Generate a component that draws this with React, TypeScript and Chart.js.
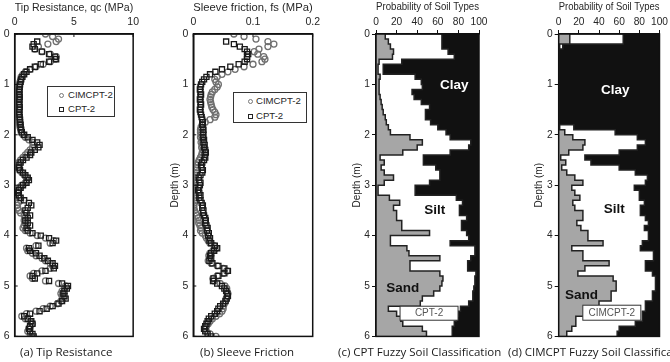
import React, { useEffect, useRef } from 'react';
import { Chart, registerables } from 'chart.js';

Chart.register(...registerables);

// ---------- data ----------
const DEPTH_PROFILE = [
  0, 0.05, 0.1, 0.15, 0.2, 0.25, 0.3, 0.35, 0.4, 0.45,
  0.5, 0.55, 0.6, 0.65, 0.7, 0.75, 0.8, 0.85, 0.9, 0.95,
  1, 1.05, 1.1, 1.15, 1.2, 1.25, 1.3, 1.35, 1.4, 1.45,
  1.5, 1.55, 1.6, 1.65, 1.7, 1.75, 1.8, 1.85, 1.9, 1.95,
  2, 2.05, 2.1, 2.15, 2.2, 2.25, 2.3, 2.35, 2.4, 2.45,
  2.5, 2.55, 2.6, 2.65, 2.7, 2.75, 2.8, 2.85, 2.9, 2.95,
  3, 3.05, 3.1, 3.15, 3.2, 3.25, 3.3, 3.35, 3.4, 3.45,
  3.5, 3.55, 3.6, 3.65, 3.7, 3.75, 3.8, 3.85, 3.9, 3.95,
  4, 4.05, 4.1, 4.15, 4.2, 4.25, 4.3, 4.35, 4.4, 4.45,
  4.5, 4.55, 4.6, 4.65, 4.7, 4.75, 4.8, 4.85, 4.9, 4.95,
  5, 5.05, 5.1, 5.15, 5.2, 5.25, 5.3, 5.35, 5.4, 5.45,
  5.5, 5.55, 5.6, 5.65, 5.7, 5.75, 5.8, 5.85, 5.9, 5.95,
  6,
];

// Tip resistance qc (MPa)
const QC_CIMCPT = [
  2.6, 3.2, 3.7, 3.5, 2.8, 2.0, 1.7, 2.3, 3.0, 3.5,
  3.4, 3.0, 2.4, 1.8, 1.3, 0.9, 0.7, 0.55, 0.5, 0.45,
  0.4, 0.38, 0.35, 0.35, 0.33, 0.35, 0.32, 0.3, 0.32, 0.35,
  0.33, 0.3, 0.32, 0.35, 0.38, 0.4, 0.42, 0.45, 0.5, 0.55,
  0.7, 0.9, 1.2, 1.5, 1.6, 1.5, 1.3, 1.1, 0.9, 0.7,
  0.5, 0.35, 0.3, 0.3, 0.4, 0.6, 0.8, 1.0, 1.0, 0.9,
  0.6, 0.4, 0.3, 0.25, 0.3, 0.4, 0.5, 0.3, 0.2, 0.25,
  0.35, 0.5, 0.8, 0.9, 0.8, 0.9, 0.8, 0.7, 0.9, 1.3,
  1.9, 2.6, 3.3, 3.0, 1.8, 1.0, 1.1, 1.5, 1.8, 2.3,
  2.6, 3.0, 3.2, 3.0, 2.3, 1.6, 1.3, 1.5, 2.6, 3.7,
  4.3, 4.2, 4.0, 3.9, 4.0, 4.1, 3.9, 3.6, 3.0, 2.4,
  1.8, 1.0, 0.6, 0.9, 1.3, 1.5, 1.3, 1.2, 1.1, 1.3,
  1.4,
];
const QC_CPT = [
  null, null, null, 1.9, 1.6, 1.5, 1.7, 2.3, 2.9, 3.4,
  3.5, 2.9, 2.2, 1.7, 1.3, 1.0, 0.8, 0.65, 0.55, 0.5,
  0.45, 0.42, 0.4, 0.38, 0.4, 0.42, 0.4, 0.38, 0.4, 0.42,
  0.4, 0.38, 0.4, 0.42, 0.45, 0.45, 0.5, 0.5, 0.55, 0.6,
  0.8, 1.1, 1.5, 1.9, 2.1, 2.0, 1.7, 1.4, 1.3, 1.0,
  0.7, 0.5, 0.4, 0.35, 0.45, 0.7, 0.9, 1.1, 1.2, 1.0,
  0.7, 0.5, 0.35, 0.3, 0.35, 0.5, 0.8, 1.2, 1.4, 1.1,
  0.9, 1.0, 1.3, 1.1, 0.9, 1.1, 1.3, 1.0, 1.1, 1.5,
  2.2, 2.9, 3.5, 3.2, 2.0, 1.2, 1.3, 1.8, 2.1, 2.5,
  2.8, 3.2, 3.4, 3.3, 2.6, 1.9, 1.5, 1.7, 2.9, 4.0,
  4.5, 4.4, 4.2, 4.1, 4.2, 4.3, 4.0, 3.7, 3.2, 2.7,
  2.1, 1.3, 0.8, 1.1, 1.4, 1.5, 1.3, 1.2, 1.3, 1.5,
  1.6,
];

// Sleeve friction fs (MPa)
const FS_CIMCPT = [
  0.068, 0.085, 0.105, 0.125, 0.135, 0.125, 0.11, 0.102, 0.108, 0.118,
  0.12, 0.115, 0.1, 0.085, 0.07, 0.058, 0.048, 0.04, 0.036, 0.038,
  0.042, 0.04, 0.036, 0.032, 0.03, 0.029, 0.028, 0.029, 0.03, 0.031,
  0.033, 0.036, 0.038, 0.036, 0.028, 0.02, 0.015, 0.013, 0.012, 0.012,
  0.013, 0.012, 0.014, 0.013, 0.015, 0.014, 0.016, 0.015, 0.014, 0.012,
  0.01, 0.008, 0.007, 0.006, 0.005, 0.004, 0.004, 0.003, 0.002, 0.002,
  0.003, 0.003, 0.002, 0.002, 0.003, 0.004, 0.003, 0.002, 0.001, 0.001,
  0.002, 0.004, 0.006, 0.008, 0.01, 0.009, 0.011, 0.013, 0.012, 0.015,
  0.02, 0.022, 0.025, 0.028, 0.035, 0.038, 0.033, 0.028, 0.026, 0.027,
  0.025, 0.03, 0.04, 0.05, 0.056, 0.05, 0.04, 0.033, 0.035, 0.045,
  0.053, 0.056, 0.056, 0.058, 0.057, 0.055, 0.054, 0.052, 0.05, 0.05,
  0.048, 0.044, 0.038, 0.032, 0.028, 0.025, 0.022, 0.02, 0.022, 0.028,
  0.038,
];
const FS_CPT = [
  null, null, null, 0.055, 0.068, 0.078, 0.086, 0.09, 0.092, 0.09,
  0.09, 0.086, 0.076, 0.062, 0.048, 0.037, 0.028, 0.022, 0.018, 0.015,
  0.013, 0.012, 0.011, 0.012, 0.013, 0.012, 0.011, 0.012, 0.013, 0.012,
  0.011, 0.012, 0.013, 0.014, 0.015, 0.016, 0.015, 0.016, 0.017, 0.016,
  0.017, 0.016, 0.018, 0.017, 0.019, 0.018, 0.02, 0.021, 0.019, 0.02,
  0.018, 0.015, 0.013, 0.014, 0.016, 0.015, 0.012, 0.009, 0.01, 0.012,
  0.011, 0.009, 0.008, 0.01, 0.012, 0.01, 0.012, 0.014, 0.016, 0.015,
  0.017, 0.016, 0.018, 0.02, 0.021, 0.02, 0.022, 0.024, 0.023, 0.026,
  0.025, 0.028, 0.027, 0.03, 0.036, 0.04, 0.035, 0.03, 0.028, 0.03,
  0.027, 0.032, 0.042, 0.052, 0.058, 0.052, 0.042, 0.034, 0.033, 0.04,
  0.048, 0.052, 0.055, 0.057, 0.058, 0.056, 0.054, 0.05, 0.045, 0.042,
  0.04, 0.036, 0.03, 0.026, 0.024, 0.022, 0.02, 0.018, 0.02, 0.024,
  0.03,
];

// Fuzzy soil classification: layer tops (m) and probabilities (%)
const DEPTH_LAYER = [
  0, 0.1, 0.2, 0.3, 0.4, 0.5, 0.6, 0.7, 0.8, 0.9,
  1, 1.1, 1.2, 1.3, 1.4, 1.5, 1.6, 1.7, 1.8, 1.9,
  2, 2.1, 2.2, 2.3, 2.4, 2.5, 2.6, 2.7, 2.8, 2.9,
  3, 3.1, 3.2, 3.3, 3.4, 3.5, 3.6, 3.7, 3.8, 3.9,
  4, 4.1, 4.2, 4.3, 4.4, 4.5, 4.6, 4.7, 4.8, 4.9,
  5, 5.1, 5.2, 5.3, 5.4, 5.5, 5.6, 5.7, 5.8, 5.9,
  6,
];
const SAND_CPT = [
  9, 12, 14, 17, 16, 3, 2, 2, 4, 3,
  3, 3, 4, 5, 6, 7, 9, 10, 12, 14,
  33, 45, 40, 26, 4, 8, 5, 8, 17, 8,
  2, 2, 13, 23, 17, 20, 20, 25, 25, 52,
  14, 14, 30, 32, 62, 33, 33, 62, 65, 64,
  62, 56, 45, 43, 12, 20, 24, 26, 45, 49,
];
const SILT_CPT = [
  55, 52, 50, 53, 60, 22, 5, 5, 34, 41,
  42, 32, 33, 39, 46, 41, 39, 43, 48, 54,
  39, 47, 50, 46, 42, 38, 53, 54, 45, 44,
  36, 36, 65, 61, 64, 61, 68, 58, 58, 36,
  76, 58, 66, 64, 30, 56, 56, 35, 31, 32,
  33, 38, 49, 47, 70, 60, 54, 50, 29, 25,
];
const SAND_CIMCPT = [
  11, 11, 1, 0, 0, 0, 0, 0, 0, 0,
  0, 0, 0, 0, 0, 0, 0, 0, 1, 6,
  14, 26, 24, 10, 2, 7, 3, 8, 16, 24,
  13, 16, 21, 14, 16, 24, 24, 18, 22, 29,
  29, 44, 13, 24, 24, 50, 26, 19, 54, 57,
  57, 52, 52, 40, 31, 25, 17, 17, 13, 8,
];
const SILT_CIMCPT = [
  53, 53, 3, 0, 0, 0, 0, 0, 0, 0,
  0, 0, 0, 0, 0, 0, 0, 0, 14, 50,
  64, 60, 54, 50, 24, 25, 57, 68, 72, 62,
  62, 64, 59, 71, 65, 57, 62, 71, 63, 60,
  60, 39, 68, 70, 70, 36, 60, 74, 42, 39,
  39, 41, 41, 46, 55, 58, 66, 59, 47, 50,
];

const SERIES_NAMES = ['CIMCPT-2', 'CPT-2'];

// ---------- styling ----------
const FONT = '"Liberation Sans", Arial, Helvetica, sans-serif';
const TEXT = '#262626';
const AXIS = '#111';
const W = 362;

function profilePoints(vals: (number | null)[]) {
  const out: { x: number; y: number }[] = [];
  vals.forEach((v, i) => {
    if (v !== null) out.push({ x: v, y: DEPTH_PROFILE[i] });
  });
  return out;
}

function layerBoundary(sand: number[], silt: number[] | null) {
  return DEPTH_LAYER.map((d, i) => {
    const k = Math.min(i, sand.length - 1);
    return { x: sand[k] + (silt ? silt[k] : 0), y: d };
  });
}

const framePlugin = {
  id: 'frame',
  afterDatasetsDraw(chart: any, _args: any, opts: any) {
    const { ctx, chartArea: a } = chart;
    ctx.save();
    ctx.strokeStyle = AXIS;
    ctx.lineWidth = 1.5;
    ctx.strokeRect(a.left, a.top, a.right - a.left, a.bottom - a.top);
    if (opts && opts.inward) {
      ctx.lineWidth = 1;
      const xs = chart.scales.x;
      const ys = chart.scales.y;
      xs.ticks.forEach((t: any) => {
        const p = xs.getPixelForValue(t.value);
        ctx.beginPath();
        ctx.moveTo(p, a.top);
        ctx.lineTo(p, a.top + 3);
        ctx.stroke();
      });
      ys.ticks.forEach((t: any) => {
        const p = ys.getPixelForValue(t.value);
        ctx.beginPath();
        ctx.moveTo(a.left, p);
        ctx.lineTo(a.left + 3, p);
        ctx.stroke();
      });
    }
    ctx.restore();
  },
};

const zoneLabelPlugin = {
  id: 'zoneLabels',
  afterDatasetsDraw(chart: any, _args: any, opts: any) {
    const items = (opts && opts.items) || [];
    const { ctx } = chart;
    const xs = chart.scales.x;
    const ys = chart.scales.y;
    items.forEach((it: any) => {
      const px = xs.getPixelForValue(it.p);
      const py = ys.getPixelForValue(it.d);
      ctx.save();
      if (it.box) {
        ctx.fillStyle = '#fff';
        ctx.strokeStyle = '#333';
        ctx.lineWidth = 1;
        ctx.fillRect(px - it.w / 2, py - it.h / 2, it.w, it.h);
        ctx.strokeRect(px - it.w / 2, py - it.h / 2, it.w, it.h);
      }
      ctx.font = it.font;
      ctx.fillStyle = it.color;
      ctx.textAlign = 'center';
      ctx.textBaseline = 'middle';
      ctx.fillText(it.text, px, py + 0.5);
      ctx.restore();
    });
  },
};

function makeScales(o: {
  xMax: number; xStep: number; xTitle: string; titleSize: number; tickSize: number; yW: number; yTitle: string | null; outward: boolean;
}) {
  const tickFont = { family: FONT, size: o.tickSize };
  const grid = {
    display: true,
    drawOnChartArea: false,
    drawTicks: o.outward,
    tickLength: 4,
    color: AXIS,
    lineWidth: 1,
  };
  return {
    x: {
      type: 'linear',
      position: 'top',
      min: 0,
      max: o.xMax,
      ticks: { stepSize: o.xStep, font: tickFont, color: TEXT, padding: o.outward ? 2 : 6, maxRotation: 0, autoSkip: false },
      grid,
      border: { display: true, color: AXIS, width: 1.5 },
      title: { display: true, text: o.xTitle, font: { family: FONT, size: o.titleSize }, color: TEXT, padding: { top: 1, bottom: 0 } },
      afterFit: (s: any) => { s.height = 34; },
    },
    y: {
      type: 'linear',
      reverse: true,
      min: 0,
      max: 6,
      ticks: { stepSize: 1, font: tickFont, color: TEXT, padding: o.outward ? 2 : 5, autoSkip: false },
      grid,
      border: { display: true, color: AXIS, width: 1.5 },
      title: { display: !!o.yTitle, text: o.yTitle || '', font: { family: FONT, size: 10 }, color: TEXT, padding: { top: 1, bottom: 0 } },
      afterFit: (s: any) => { s.width = o.yW; },
    },
  };
}

function profileConfig(cim: (number | null)[], cpt: (number | null)[], xMax: number, xStep: number, xTitle: string, yW: number, yTitle: string | null, padRight: number) {
  return {
    type: 'scatter',
    data: {
      datasets: [
        {
          label: SERIES_NAMES[1],
          data: profilePoints(cpt),
          pointStyle: 'rect',
          pointRadius: 3.6,
          borderColor: '#1a1a1a',
          backgroundColor: 'rgba(0,0,0,0)',
          pointBorderWidth: 1.3,
        },
        {
          label: SERIES_NAMES[0],
          data: profilePoints(cim),
          pointStyle: 'circle',
          pointRadius: 3,
          borderColor: '#707070',
          backgroundColor: 'rgba(0,0,0,0)',
          pointBorderWidth: 1.3,
        },
      ],
    },
    options: {
      animation: false,
      responsive: false,
      events: [],
      layout: { padding: { left: 0, top: 0, right: padRight, bottom: W - 336.4 } },
      plugins: { legend: { display: false }, tooltip: { enabled: false }, frame: { inward: true } },
      scales: makeScales({ xMax, xStep, xTitle, titleSize: 11.8, tickSize: 10.5, yW, yTitle, outward: false }),
    },
    plugins: [framePlugin],
  };
}

function soilConfig(sand: number[], silt: number[], yW: number, padRight: number, labels: any[]) {
  return {
    type: 'line',
    data: {
      datasets: [
        {
          label: 'Sand',
          data: layerBoundary(sand, null),
          stepped: 'after',
          borderColor: '#222',
          borderWidth: 1.5,
          pointRadius: 0,
          backgroundColor: '#a6a6a6',
          fill: { value: 0 },
        },
        {
          label: 'Clay',
          data: layerBoundary(sand, silt),
          stepped: 'after',
          borderColor: '#222',
          borderWidth: 1.5,
          pointRadius: 0,
          backgroundColor: '#111',
          fill: { value: 100 },
        },
      ],
    },
    options: {
      indexAxis: 'y',
      animation: false,
      responsive: false,
      events: [],
      layout: { padding: { left: 0, top: 0, right: padRight, bottom: W - 336.4 } },
      plugins: {
        legend: { display: false },
        tooltip: { enabled: false },
        frame: { inward: false },
        zoneLabels: { items: labels },
      },
      scales: makeScales({ xMax: 100, xStep: 20, xTitle: 'Probability of Soil Types', titleSize: 10.5, tickSize: 10.2, yW, yTitle: 'Depth (m)', outward: true }),
    },
    plugins: [zoneLabelPlugin, framePlugin],
  };
}

const BOLD = `bold 13.5px ${FONT}`;
const SMALL = `10px ${FONT}`;
const LABELS_C = [
  { text: 'Clay', p: 76, d: 1.0, color: '#fff', font: BOLD },
  { text: 'Silt', p: 57, d: 3.49, color: '#111', font: BOLD },
  { text: 'Sand', p: 26, d: 5.03, color: '#111', font: BOLD },
  { text: 'CPT-2', p: 51.5, d: 5.54, color: '#555', font: SMALL, box: true, w: 58, h: 14 },
];
const LABELS_D = [
  { text: 'Clay', p: 56, d: 1.11, color: '#fff', font: BOLD },
  { text: 'Silt', p: 55, d: 3.47, color: '#111', font: BOLD },
  { text: 'Sand', p: 22.5, d: 5.18, color: '#111', font: BOLD },
  { text: 'CIMCPT-2', p: 52.7, d: 5.53, color: '#555', font: SMALL, box: true, w: 58, h: 15 },
];

const PANELS = [
  { left: 0, width: 145 },
  { left: 168, width: 158 },
  { left: 350, width: 140 },
  { left: 532, width: 138 },
];

function Legend({ left, top, width, height, mx, tx, y1, y2 }: any) {
  const txt: any = { position: 'absolute', left: tx, fontSize: 9.6, lineHeight: '12px', fontFamily: FONT, color: '#262626', whiteSpace: 'nowrap' };
  return (
    <div style={{ position: 'absolute', left, top, width, height, border: '1px solid #333', boxSizing: 'border-box', background: '#fff' }}>
      <div style={{ position: 'absolute', left: mx - 2.5, top: y1 - 2.5, width: 5, height: 5, boxSizing: 'border-box', border: '1px solid #777', borderRadius: '50%' }} />
      <div style={{ ...txt, top: y1 - 6 }}>{SERIES_NAMES[0]}</div>
      <div style={{ position: 'absolute', left: mx - 2.5, top: y2 - 2.5, width: 5, height: 5, boxSizing: 'border-box', border: '1px solid #222' }} />
      <div style={{ ...txt, top: y2 - 6 }}>{SERIES_NAMES[1]}</div>
    </div>
  );
}

export default function App() {
  const r0 = useRef<HTMLCanvasElement>(null);
  const r1 = useRef<HTMLCanvasElement>(null);
  const r2 = useRef<HTMLCanvasElement>(null);
  const r3 = useRef<HTMLCanvasElement>(null);

  useEffect(() => {
    const charts: Chart[] = [];
    charts.push(new Chart(r0.current as any, profileConfig(QC_CIMCPT, QC_CPT, 10, 5, 'Tip Resistance, qc (MPa)', 14.7, null, 10) as any));
    charts.push(new Chart(r1.current as any, profileConfig(FS_CIMCPT, FS_CPT, 0.2, 0.1, 'Sleeve friction, fs (MPa)', 25.3, 'Depth (m)', 10.3) as any));
    charts.push(new Chart(r2.current as any, soilConfig(SAND_CPT, SILT_CPT, 26, 11, LABELS_C) as any));
    charts.push(new Chart(r3.current as any, soilConfig(SAND_CIMCPT, SILT_CIMCPT, 26.7, 9.3, LABELS_D) as any));
    return () => charts.forEach((c) => c.destroy());
  }, []);

  const refs = [r0, r1, r2, r3];
  const cap: any = { position: 'absolute', top: 344, fontFamily: '"Open Sans", "Noto Sans", sans-serif', fontSize: 11.5, lineHeight: '16px', color: '#1a1a1a', whiteSpace: 'nowrap' };

  return (
    <div style={{ position: 'absolute', left: 0, top: 0, width: 670, height: 362, overflow: 'hidden', background: '#fff' }}>
      {PANELS.map((p, i) => (
        <canvas
          key={i}
          ref={refs[i]}
          width={p.width}
          height={W}
          style={{ position: 'absolute', left: p.left, top: 0, width: p.width, height: W }}
        />
      ))}
      <Legend left={47} top={86} width={68} height={31} mx={13} tx={20} y1={8} y2={22} />
      <Legend left={233} top={92} width={74} height={31} mx={16} tx={22} y1={8} y2={23} />
      <div style={{ ...cap, left: 20 }}>(a) Tip Resistance</div>
      <div style={{ ...cap, left: 200 }}>(b) Sleeve Friction</div>
      <div style={{ ...cap, left: 338 }}>(c) CPT Fuzzy Soil Classification</div>
      <div style={{ ...cap, left: 508 }}>(d) CIMCPT Fuzzy Soil Classification</div>
    </div>
  );
}
